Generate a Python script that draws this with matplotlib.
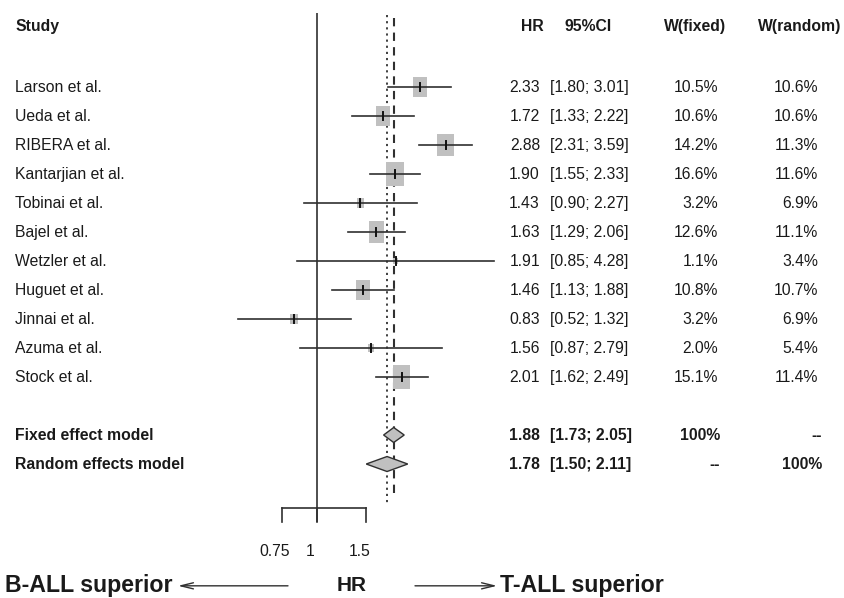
import numpy as np
import matplotlib
matplotlib.use("Agg")
import matplotlib.pyplot as plt
import matplotlib.patches as patches
import matplotlib.transforms as transforms

plt.rcParams['font.family'] = ['Liberation Sans', 'DejaVu Sans']

# data
studies = ["Larson et al.", "Ueda et al.", "RIBERA et al.", "Kantarjian et al.",
           "Tobinai et al.", "Bajel et al.", "Wetzler et al.", "Huguet et al.",
           "Jinnai et al.", "Azuma et al.", "Stock et al."]
hr = [2.33, 1.72, 2.88, 1.90, 1.43, 1.63, 1.91, 1.46, 0.83, 1.56, 2.01]
lower = [1.80, 1.33, 2.31, 1.55, 0.90, 1.29, 0.85, 1.13, 0.52, 0.87, 1.62]
upper = [3.01, 2.22, 3.59, 2.33, 2.27, 2.06, 4.28, 1.88, 1.32, 2.79, 2.49]
w_fixed = [10.5, 10.6, 14.2, 16.6, 3.2, 12.6, 1.1, 10.8, 3.2, 2.0, 15.1]
w_random = [10.6, 10.6, 11.3, 11.6, 6.9, 11.1, 3.4, 10.7, 6.9, 5.4, 11.4]

fixed_hr, fixed_lo, fixed_hi = 1.88, 1.73, 2.05
random_hr, random_lo, random_hi = 1.78, 1.50, 2.11
tick_vals = [0.75, 1, 1.5]
tick_labels = ["0.75", "1", "1.5"]

W, H = 844, 598
PX_PER_LN = 121.5
X_ONE = 317

fig = plt.figure(figsize=(W / 100, H / 100), dpi=100)
ax = fig.add_axes([0, 0, 1, 1])
ax.set_xscale("log")
ax.set_xlim(np.exp(-X_ONE / PX_PER_LN), np.exp((W - X_ONE) / PX_PER_LN))
ax.set_ylim(18.62, -2)
ax.axis("off")

tr = transforms.blended_transform_factory(fig.transFigure, ax.transData)


def fx(px):
    return px / W


line_c = "#303030"
box_c = "#c0c0c0"
txt_c = "#1a1a1a"
fs = 11.3

# reference lines
ax.plot([1, 1], [-1.55, 16], color=line_c, lw=1.2, solid_capstyle="butt")
ax.plot([random_hr, random_hr], [-1.48, 15.34], color=line_c, lw=1.3,
        linestyle=(0, (1.2, 2.2)))
ax.plot([fixed_hr, fixed_hr], [-1.38, 15.14], color=line_c, lw=1.5,
        linestyle=(0, (4, 3)))

# studies
for i, name in enumerate(studies):
    r = i + 1
    ax.plot([lower[i], upper[i]], [r, r], color=line_c, lw=1.2, zorder=3)
    hw = 2.2 * np.sqrt(w_fixed[i]) / PX_PER_LN
    hh = 3.0 * np.sqrt(w_fixed[i]) / 29
    x0 = hr[i] * np.exp(-hw)
    x1 = hr[i] * np.exp(hw)
    ax.add_patch(patches.Rectangle((x0, r - hh), x1 - x0, 2 * hh,
                                   facecolor=box_c, edgecolor="none", zorder=2))
    ax.plot([hr[i], hr[i]], [r - 0.14, r + 0.14], color="#111111", lw=1.4, zorder=4)

    ax.text(fx(15), r, name, transform=tr, fontsize=fs, va="center", color=txt_c)
    ax.text(fx(540), r, f"{hr[i]:.2f}", transform=tr, fontsize=fs,
            va="center", ha="right", color=txt_c)
    ax.text(fx(550), r, f"[{lower[i]:.2f}; {upper[i]:.2f}]", transform=tr,
            fontsize=fs, va="center", ha="left", color=txt_c)
    ax.text(fx(718), r, f"{w_fixed[i]:.1f}%", transform=tr, fontsize=fs,
            va="center", ha="right", color=txt_c)
    ax.text(fx(818), r, f"{w_random[i]:.1f}%", transform=tr, fontsize=fs,
            va="center", ha="right", color=txt_c)

# summary diamonds
for r, m, lo, hi in [(13, fixed_hr, fixed_lo, fixed_hi),
                     (14, random_hr, random_lo, random_hi)]:
    dh = 7.5 / 29
    ax.add_patch(patches.Polygon([(lo, r), (m, r - dh), (hi, r), (m, r + dh)],
                                 closed=True, facecolor=box_c, edgecolor=line_c,
                                 lw=1.0, zorder=3))

summary = [("Fixed effect model", 13, fixed_hr, fixed_lo, fixed_hi, "100%", "--"),
           ("Random effects model", 14, random_hr, random_lo, random_hi, "--", "100%")]
for name, r, m, lo, hi, wf, wr in summary:
    ax.text(fx(15), r, name, transform=tr, fontsize=fs, va="center",
            fontweight="bold", color=txt_c)
    ax.text(fx(540), r, f"{m:.2f}", transform=tr, fontsize=fs, va="center",
            ha="right", fontweight="bold", color=txt_c)
    ax.text(fx(550), r, f"[{lo:.2f}; {hi:.2f}]", transform=tr, fontsize=fs,
            va="center", ha="left", fontweight="bold", color=txt_c)
    ax.text(fx(720), r, wf, transform=tr, fontsize=fs, va="center",
            ha="right", fontweight="bold", color=txt_c)
    ax.text(fx(822), r, wr, transform=tr, fontsize=fs, va="center",
            ha="right", fontweight="bold", color=txt_c)

# headers
hy = -1.07
ax.text(fx(15), hy, "Study", transform=tr, fontsize=fs, va="center",
        fontweight="bold", color=txt_c)
ax.text(fx(532), hy, "HR", transform=tr, fontsize=fs, va="center",
        ha="center", fontweight="bold", color=txt_c)
ax.text(fx(588), hy, "95%CI", transform=tr, fontsize=fs, va="center",
        ha="center", fontweight="bold", color=txt_c)
ax.text(fx(695), hy, "W(fixed)", transform=tr, fontsize=fs, va="center",
        ha="center", fontweight="bold", color=txt_c)
ax.text(fx(800), hy, "W(random)", transform=tr, fontsize=fs, va="center",
        ha="center", fontweight="bold", color=txt_c)

# x axis
ya = 15.52
ax.plot([tick_vals[0], tick_vals[-1]], [ya, ya], color=line_c, lw=1.2)
lab_tr = transforms.offset_copy(ax.transData, fig=fig, x=-7, y=0, units="dots")
for v, lab in zip(tick_vals, tick_labels):
    ax.plot([v, v], [ya, 16], color=line_c, lw=1.2)
    ax.text(v, 17.0, lab, transform=lab_tr, fontsize=fs, ha="center",
            va="center", color=txt_c)

# bottom labels
yb = 18.2
ax.text(fx(5), yb, "B-ALL superior", transform=tr, fontsize=16.7,
        fontweight="bold", va="center", ha="left", color=txt_c)
ax.text(fx(352), yb, "HR", transform=tr, fontsize=15,
        fontweight="bold", va="center", ha="center", color=txt_c)
ax.text(fx(500), yb, "T-ALL superior", transform=tr, fontsize=16.7,
        fontweight="bold", va="center", ha="left", color=txt_c)
arrow_style = dict(arrowstyle="->,head_length=0.9,head_width=0.22",
                   color=line_c, lw=1.0, shrinkA=0, shrinkB=0)
ax.annotate("", xy=(fx(178), yb), xytext=(fx(288), yb), xycoords=tr,
            textcoords=tr, arrowprops=arrow_style)
ax.annotate("", xy=(fx(497), yb), xytext=(fx(415), yb), xycoords=tr,
            textcoords=tr, arrowprops=arrow_style)

fig.savefig("out.png", dpi=100, facecolor="white")
